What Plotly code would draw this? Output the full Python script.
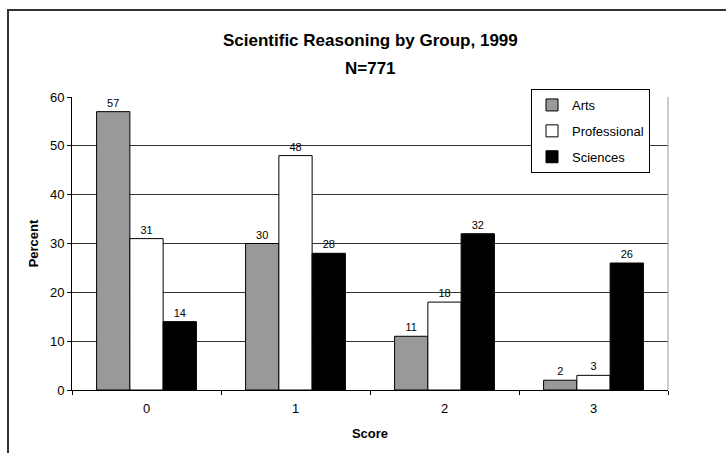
import plotly.graph_objects as go

# Score categories and percentage of each group at each score
scores = ["0", "1", "2", "3"]
arts = [57, 30, 11, 2]
professional = [31, 48, 18, 3]
sciences = [14, 28, 32, 26]

groups = ["Arts", "Professional", "Sciences"]
fills = ["#999999", "#ffffff", "#000000"]
y_ticks = [0, 10, 20, 30, 40, 50, 60]

FONT = "Arial"

W, H = 726, 453
L, R, T, B = 72, 58, 97, 63

fig = go.Figure()
for name, vals, col in zip(groups, [arts, professional, sciences], fills):
    fig.add_trace(go.Bar(
        name=name,
        x=scores,
        y=vals,
        legendgroup=name,
        marker=dict(color=col, line=dict(color="#000000", width=1)),
        text=[str(v) for v in vals],
        textposition="outside",
        textfont=dict(family=FONT, size=11, color="#000000"),
        cliponaxis=False,
    ))

# outer chart frame (extends past the right and bottom of the page)
pw, ph = W - L - R, H - T - B
fig.add_shape(type="rect", xref="paper", yref="paper",
              x0=(8 - L) / pw, x1=(W + 20 - L) / pw,
              y0=-(H + 20 - (H - B)) / ph, y1=((H - B) - 10) / ph,
              line=dict(color="#333333", width=2), fillcolor="rgba(0,0,0,0)",
              layer="below")

fig.add_annotation(text="<b>Scientific Reasoning by Group, 1999</b>",
                   xref="paper", yref="paper", x=0.5, y=(H - B - 40) / ph,
                   showarrow=False, font=dict(family=FONT, size=17, color="#000000"),
                   xanchor="center", yanchor="middle")
fig.add_annotation(text="<b>N=771</b>",
                   xref="paper", yref="paper", x=0.5, y=(H - B - 68) / ph,
                   showarrow=False, font=dict(family=FONT, size=17, color="#000000"),
                   xanchor="center", yanchor="middle")

fig.update_layout(
    width=W, height=H,
    margin=dict(l=L, r=R, t=T, b=B),
    paper_bgcolor="#ffffff",
    plot_bgcolor="#ffffff",
    barmode="group",
    bargap=0.33,
    bargroupgap=0,
    font=dict(family=FONT, size=13, color="#000000"),
    showlegend=True,
    legend=dict(
        x=(650 - L) / pw, y=(H - B - 89) / ph,
        xanchor="right", yanchor="top",
        bgcolor="#ffffff", bordercolor="#000000", borderwidth=1,
        font=dict(family=FONT, size=13, color="#000000"),
        tracegroupgap=6,
        itemwidth=30,
    ),
    xaxis=dict(
        type="category",
        showline=True, linecolor="#000000", linewidth=1,
        ticks="outside", ticklen=4, tickcolor="#000000",
        tickson="boundaries",
        ticklabelstandoff=6,
        showgrid=False,
        mirror=False,
        tickfont=dict(family=FONT, size=13),
        title=dict(text="<b>Score</b>", font=dict(family=FONT, size=13), standoff=14),
    ),
    yaxis=dict(
        range=[0, 60],
        tickvals=y_ticks,
        showline=True, linecolor="#000000", linewidth=1,
        ticks="outside", ticklen=4, tickcolor="#000000",
        showgrid=True, gridcolor="#333333", gridwidth=1,
        zeroline=False,
        tickfont=dict(family=FONT, size=13),
        title=dict(text="<b>Percent</b>", font=dict(family=FONT, size=13), standoff=8),
    ),
)

# grey right-hand border of the plot area
fig.add_shape(type="line", xref="paper", yref="paper", x0=1, x1=1, y0=0, y1=1,
              line=dict(color="#999999", width=1))

fig.write_html("out.html")
